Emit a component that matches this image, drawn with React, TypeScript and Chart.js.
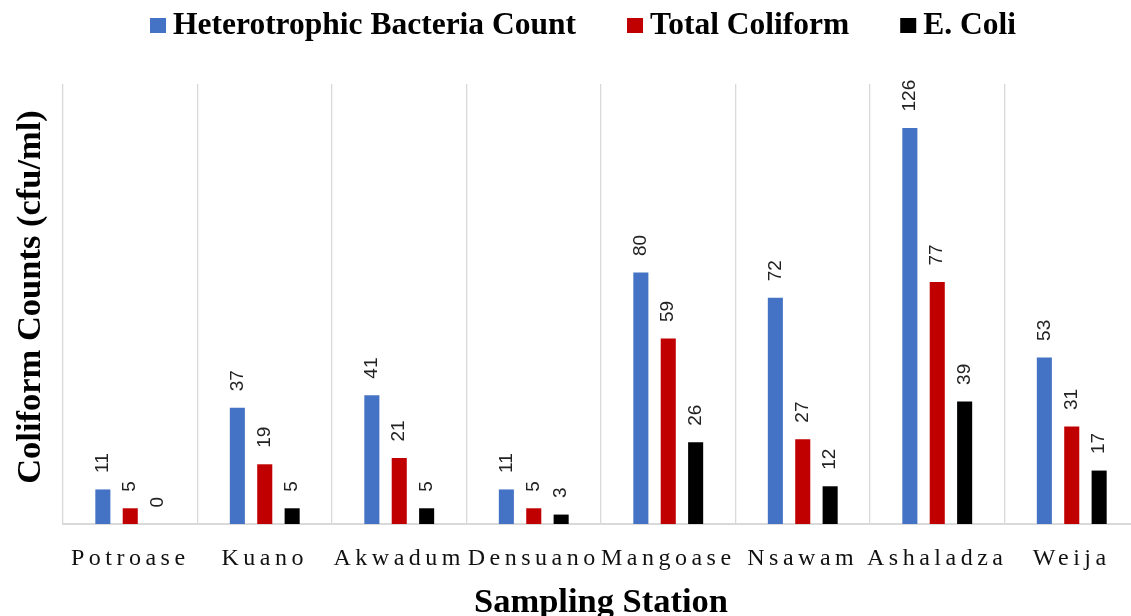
import React, { useEffect, useRef } from 'react';
import { Chart, registerables } from 'chart.js';

Chart.register(...registerables);

const stations = ['Potroase', 'Kuano', 'Akwadum', 'Densuano', 'Mangoase', 'Nsawam', 'Ashaladza', 'Weija'];
const heterotrophic = [11, 37, 41, 11, 80, 72, 126, 53];
const totalColiform = [5, 19, 21, 5, 59, 27, 77, 31];
const eColi = [0, 5, 5, 3, 26, 12, 39, 17];
const seriesNames = ['Heterotrophic Bacteria Count', 'Total Coliform', 'E. Coli'];
const seriesColors = ['#4472C4', '#C00000', '#000000'];
const yMin = 0;
const yMax = 140;
const yTitle = 'Coliform Counts (cfu/ml)';
const xTitle = 'Sampling Station';

const SERIF = '"Liberation Serif", "Times New Roman", serif';
const SANS = '"Liberation Sans", Arial, sans-serif';
const TITLE_SIZE = 34.5;

const valueLabels = {
  id: 'valueLabels',
  afterDatasetsDraw(chart: any) {
    const ctx = chart.ctx;
    ctx.save();
    ctx.font = `19px ${SANS}`;
    ctx.fillStyle = '#222222';
    chart.data.datasets.forEach((ds: any, i: number) => {
      const meta = chart.getDatasetMeta(i);
      meta.data.forEach((el: any, j: number) => {
        ctx.save();
        ctx.translate(el.x, el.y - 16.5);
        ctx.rotate(-Math.PI / 2);
        ctx.textAlign = 'left';
        ctx.textBaseline = 'middle';
        ctx.fillText(String(ds.data[j]), 0, 0);
        ctx.restore();
      });
    });
    ctx.restore();
  },
};

const spacedXLabels = {
  id: 'spacedXLabels',
  afterDraw(chart: any) {
    const ctx = chart.ctx;
    const xs = chart.scales.x;
    ctx.save();
    ctx.font = `24px ${SERIF}`;
    (ctx as any).letterSpacing = '4.5px';
    ctx.fillStyle = '#111111';
    ctx.textAlign = 'center';
    ctx.textBaseline = 'alphabetic';
    (chart.data.labels as string[]).forEach((lab, i) => {
      ctx.fillText(lab, xs.getPixelForValue(i), chart.chartArea.bottom + 41);
    });
    ctx.restore();
  },
};

const yTitleDraw = {
  id: 'yTitleDraw',
  afterDraw(chart: any) {
    const ctx = chart.ctx;
    const ys = chart.scales.y;
    const cx = ys.left + 10.3 + (TITLE_SIZE * 1.2) / 2;
    const cy = (chart.chartArea.top + chart.chartArea.bottom) / 2 - 7;
    ctx.save();
    ctx.font = `bold ${TITLE_SIZE}px ${SERIF}`;
    ctx.fillStyle = '#000000';
    ctx.translate(cx, cy);
    ctx.rotate(-Math.PI / 2);
    ctx.textAlign = 'center';
    ctx.textBaseline = 'middle';
    ctx.fillText(yTitle, 0, 0);
    ctx.restore();
  },
};

const customLegend = {
  id: 'customLegend',
  afterDraw(chart: any) {
    const ctx = chart.ctx;
    const boxW = 16;
    const boxH = 15;
    const gapBoxText = 7;
    const gapItems = 51;
    const cy = 25.5;
    ctx.save();
    ctx.font = `bold 31.5px ${SERIF}`;
    const items = chart.data.datasets.map((ds: any) => ({
      text: ds.label,
      color: ds.backgroundColor,
      w: ctx.measureText(ds.label).width,
    }));
    const total = items.reduce((s: number, it: any) => s + boxW + gapBoxText + it.w, 0) + gapItems * (items.length - 1);
    const center = (chart.chartArea.left + chart.chartArea.right) / 2 - 18;
    let x = center - total / 2;
    ctx.textBaseline = 'middle';
    ctx.textAlign = 'left';
    items.forEach((it: any) => {
      ctx.fillStyle = it.color;
      ctx.fillRect(x, cy - boxH / 2, boxW, boxH);
      x += boxW + gapBoxText;
      ctx.fillStyle = '#000000';
      ctx.fillText(it.text, x, cy);
      x += it.w + gapItems;
    });
    ctx.restore();
  },
};

export default function App() {
  const ref = useRef<HTMLCanvasElement>(null);

  useEffect(() => {
    if (!ref.current) return;
    const series = [heterotrophic, totalColiform, eColi];
    const chart = new Chart(ref.current, {
      type: 'bar',
      data: {
        labels: stations,
        datasets: series.map((d, i) => ({
          label: seriesNames[i],
          data: d,
          backgroundColor: seriesColors[i],
          borderWidth: 0,
          categoryPercentage: 0.611,
          barPercentage: 0.55,
        })),
      },
      options: {
        animation: false,
        responsive: false,
        devicePixelRatio: 1,
        layout: { padding: { left: 0, right: 1, top: 84, bottom: 16.3 } },
        plugins: {
          legend: { display: false },
          tooltip: { enabled: false },
        },
        scales: {
          x: {
            grid: { color: '#d9d9d9', lineWidth: 1.3, drawTicks: false, offset: true },
            border: { color: '#d9d9d9', width: 2 },
            ticks: { display: false },
            title: {
              display: true,
              text: xTitle,
              color: '#000000',
              font: { family: SERIF, size: TITLE_SIZE, weight: 'bold' },
              padding: { top: 58.3, bottom: 0 },
            },
          },
          y: {
            min: yMin,
            max: yMax,
            ticks: { display: false },
            grid: { display: false, drawTicks: false },
            border: { display: false },
            title: {
              display: true,
              text: yTitle,
              color: 'rgba(0,0,0,0)',
              font: { family: SERIF, size: TITLE_SIZE, weight: 'bold' },
              padding: { top: 10.3, bottom: 11.3 },
            },
          },
        },
      } as any,
      plugins: [valueLabels, spacedXLabels, yTitleDraw, customLegend],
    });
    return () => chart.destroy();
  }, []);

  return (
    <div style={{ position: 'fixed', left: 0, top: 0, width: 1131, height: 616, overflow: 'hidden', background: '#ffffff' }}>
      <canvas ref={ref} width={1140} height={640} style={{ display: 'block' }} />
    </div>
  );
}
